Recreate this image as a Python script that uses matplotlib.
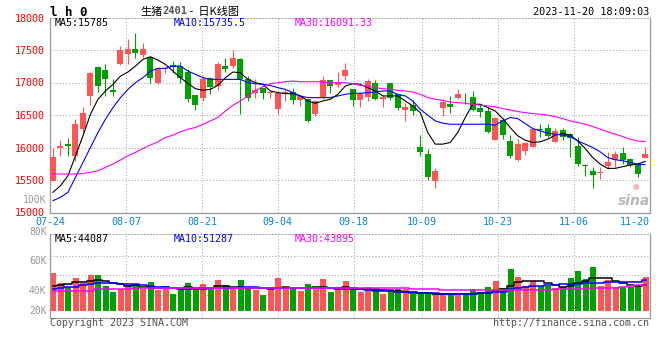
import matplotlib
matplotlib.use("Agg")
import matplotlib.pyplot as plt
import numpy as np

# ---------------- data ----------------
dates = ["07-24", "07-25", "07-26", "07-27", "07-28", "07-31",
         "08-01", "08-02", "08-03", "08-04", "08-07", "08-08", "08-09", "08-10", "08-11",
         "08-14", "08-15", "08-16", "08-17", "08-18", "08-21", "08-22", "08-23", "08-24", "08-25",
         "08-28", "08-29", "08-30", "08-31",
         "09-01", "09-04", "09-05", "09-06", "09-07", "09-08", "09-11", "09-12", "09-13", "09-14", "09-15",
         "09-18", "09-19", "09-20", "09-21", "09-22", "09-25", "09-26", "09-27", "09-28",
         "10-09", "10-10", "10-11", "10-12", "10-13", "10-16", "10-17", "10-18", "10-19", "10-20",
         "10-23", "10-24", "10-25", "10-26", "10-27", "10-30", "10-31",
         "11-01", "11-02", "11-03", "11-06", "11-07", "11-08", "11-09", "11-10",
         "11-13", "11-14", "11-15", "11-16", "11-17", "11-20"]

opens = [15490, 15995, 16050, 15873, 16282, 16793, 17237, 17200, 16880, 17288,
         17442, 17508, 17421, 17396, 16997, 17212, 17263, 17253, 17166, 16803,
         16767, 17064, 16946, 17248, 17253, 17355, 17048, 16845, 16910, 16834,
         16588, 16818, 16854, 16726, 16742, 16512, 16767, 17033, 16961, 17099,
         16895, 16731, 16778, 16987, 16742, 16987, 16818, 16578, 16650, 16001,
         15899, 15490, 16614, 16665, 16757, 16767, 16778, 16614, 16563, 16118,
         16425, 16103, 15807, 15950, 16011, 16292, 16297, 16088, 16266, 16215,
         16026, 15730, 15643, 15607, 15710, 15806, 15914, 15822, 15745, 15837]
highs = [15992, 16113, 16140, 16435, 16624, 17166, 17253, 17278, 17058, 17560,
         17662, 17764, 17610, 17396, 17243, 17237, 17329, 17314, 17202, 16803,
         17099, 17084, 17314, 17380, 17498, 17380, 17099, 17048, 16920, 16870,
         16870, 16880, 16920, 16803, 16752, 16731, 17099, 17033, 17161, 17304,
         16895, 16844, 17048, 17033, 16803, 16997, 16818, 16690, 16726, 16190,
         15975, 15679, 16742, 16793, 16905, 16844, 16870, 16665, 16624, 16476,
         16461, 16190, 16128, 16088, 16292, 16358, 16369, 16307, 16297, 16230,
         16154, 15745, 15694, 15694, 15924, 15950, 16001, 15832, 15745, 16011]
lows = [15480, 15873, 15873, 15787, 16230, 16650, 16854, 16793, 16793, 17263,
        17288, 17380, 17380, 16997, 16972, 17150, 17150, 16997, 16701, 16573,
        16716, 16818, 16880, 17166, 17227, 16520, 16716, 16767, 16742, 16767,
        16512, 16716, 16665, 16640, 16394, 16486, 16742, 16834, 16936, 17038,
        16640, 16624, 16716, 16726, 16624, 16726, 16573, 16410, 16497, 15873,
        15500, 15372, 16487, 16538, 16742, 16665, 16563, 16476, 16220, 16118,
        16128, 15832, 15796, 15883, 16001, 16154, 16154, 16078, 16113, 15850,
        15720, 15566, 15377, 15515, 15669, 15704, 15745, 15694, 15541, 15837]
closes = [15848, 16030, 16025, 16358, 16527, 17140, 16946, 17058, 16860, 17498,
          17508, 17447, 17508, 17064, 17227, 17227, 17242, 17064, 16742, 16650,
          17048, 16936, 17288, 17212, 17370, 17048, 16767, 16880, 16845, 16854,
          16844, 16854, 16726, 16793, 16410, 16716, 17033, 16946, 17012, 17191,
          16731, 16818, 17023, 16742, 16778, 16767, 16604, 16624, 16563, 15934,
          15551, 15643, 16702, 16624, 16818, 16757, 16573, 16553, 16241, 16461,
          16195, 15873, 16052, 16062, 16282, 16266, 16180, 16256, 16154, 16139,
          15745, 15710, 15582, 15618, 15781, 15898, 15812, 15730, 15592, 15898]

ma5 = [15311, 15413, 15566, 15873, 16180, 16512, 16742, 16870, 16972, 17099,
       17161, 17253, 17355, 17396, 17345, 17278, 17176, 17074, 16987, 16905,
       16880, 16895, 16956, 17074, 17161, 17150, 17048, 16997, 16972, 16870,
       16844, 16829, 16829, 16793, 16716, 16680, 16716, 16742, 16818, 16946,
       16982, 16972, 16920, 16870, 16793, 16793, 16793, 16716, 16640, 16537,
       16231, 16052, 16052, 16077, 16231, 16461, 16665, 16665, 16614, 16563,
       16445, 16307, 16180, 16113, 16077, 16088, 16128, 16190, 16215, 16190,
       16103, 15985, 15847, 15745, 15679, 15679, 15704, 15730, 15745, 15785]
ma10 = [15183, 15234, 15311, 15541, 15771, 16001, 16231, 16435, 16614, 16767,
        16895, 16997, 17074, 17176, 17217, 17217, 17253, 17253, 17176, 17125,
        17074, 17048, 17048, 17048, 17048, 17048, 16997, 16982, 16972, 16956,
        16920, 16895, 16844, 16793, 16767, 16767, 16767, 16767, 16793, 16818,
        16834, 16834, 16844, 16854, 16870, 16870, 16818, 16793, 16716, 16588,
        16497, 16410, 16374, 16358, 16358, 16358, 16358, 16358, 16358, 16343,
        16410, 16461, 16445, 16369, 16292, 16256, 16221, 16205, 16190, 16169,
        16103, 16052, 16001, 15934, 15847, 15812, 15796, 15771, 15745, 15735.5]
ma30 = [15592, 15592, 15592, 15592, 15602, 15618, 15643, 15694, 15745, 15807,
        15873, 15924, 15985, 16037, 16088, 16154, 16190, 16241, 16282, 16307,
        16358, 16410, 16461, 16560, 16650, 16716, 16793, 16870, 16936, 16982,
        16997, 17012, 17023, 17012, 17012, 17012, 17007, 16997, 16997, 16997,
        16982, 16956, 16946, 16920, 16905, 16895, 16880, 16870, 16854, 16818,
        16767, 16742, 16726, 16701, 16690, 16680, 16665, 16650, 16640, 16624,
        16599, 16578, 16553, 16537, 16522, 16512, 16497, 16476, 16445, 16410,
        16384, 16358, 16323, 16282, 16241, 16205, 16169, 16128, 16100, 16091.33]

volume = [64400, 47600, 39760, 56000, 47600, 60480, 60480, 42000, 32480, 36400,
          43680, 45360, 36400, 49280, 35280, 39760, 28560, 36400, 47600, 38080,
          45360, 36400, 52080, 43680, 39760, 52080, 39200, 35280, 26880, 36400,
          56000, 39760, 38080, 33600, 45360, 36400, 53760, 32480, 38080, 50960,
          39200, 32480, 40880, 38080, 28560, 36400, 36960, 36400, 28560, 32480,
          30800, 28000, 30800, 29680, 29680, 26880, 36960, 32480, 40880, 50960,
          38080, 70560, 57680, 42000, 50400, 42000, 42000, 38080, 39760, 56000,
          67760, 53760, 74480, 42560, 52080, 40880, 39760, 39760, 42560, 57680]
vol_ma5 = [42000, 43680, 44800, 48160, 48160, 50960, 52080, 50960, 46480, 44800,
           42000, 43680, 40880, 39760, 39200, 39760, 38080, 36960, 39760, 38080,
           39200, 39200, 42000, 42000, 39760, 39760, 38080, 38080, 38080, 36960,
           39200, 39760, 39200, 38080, 38080, 39760, 39760, 39200, 39200, 39760,
           39200, 36960, 36400, 35280, 35280, 34160, 33600, 32480, 31360, 30800,
           29680, 28560, 28000, 28000, 28000, 28000, 29120, 29680, 29680, 34160,
           36960, 42000, 49280, 50400, 50400, 50400, 46480, 43680, 40880, 42000,
           46480, 50400, 56000, 56000, 54880, 50400, 47600, 43680, 42000, 44087]
vol_ma10 = [36960, 38080, 39760, 40880, 43680, 44800, 46480, 46480, 46480, 45360,
            44800, 44800, 43680, 42000, 40880, 39760, 39200, 38080, 36960, 36960,
            36960, 38080, 38080, 39200, 39200, 39760, 39760, 39760, 39200, 38080,
            38080, 38080, 38080, 38080, 38080, 39200, 39200, 38080, 36960, 36960,
            36400, 36400, 35280, 34160, 34160, 33600, 32480, 31920, 30800, 30800,
            29680, 29680, 28560, 28560, 28560, 28560, 28560, 29680, 29680, 31360,
            32480, 36400, 38080, 39760, 42000, 42560, 43680, 43680, 44800, 44800,
            45360, 46480, 47600, 47600, 48160, 48160, 48160, 48160, 49280, 51287]
vol_ma30 = [34160, 34160, 34160, 34160, 34160, 34160, 36400, 36400, 36400, 36400,
            36400, 38080, 38080, 38080, 38080, 38080, 38080, 38080, 38080, 38080,
            38080, 38640, 38640, 38640, 38640, 38640, 38640, 38640, 38640, 38640,
            38640, 38640, 38640, 38640, 38640, 38640, 38640, 38640, 38080, 38080,
            38080, 38080, 38080, 38080, 38080, 38080, 38080, 38080, 36400, 36400,
            36400, 36400, 35280, 35280, 35280, 34720, 34720, 34720, 34720, 35280,
            35280, 35280, 35280, 35280, 35280, 35280, 35280, 36400, 36400, 36400,
            36400, 36400, 38640, 38640, 38640, 38640, 40880, 42000, 43120, 43895]

price_ticks = [15000, 15500, 16000, 16500, 17000, 17500, 18000]
date_ticks = ["07-24", "08-07", "08-21", "09-04", "09-18", "10-09", "10-23", "11-06", "11-20"]
vol_tick_labels = ["100K", "80K", "60K", "40K", "20K"]

title_code = "l h 0"
title_name = "生猪"
title_contract = "2401"
title_rest = " -  日K线图"
timestamp = "2023-11-20 18:09:03"
ma_labels = ["MA5:15785", "MA10:15735.5", "MA30:16091.33"]
vol_ma_labels = ["MA5:44087", "MA10:51287", "MA30:43895"]

# ---------------- style ----------------
W, H = 660, 360
RED = "#ff5555"
GREEN = "#00a000"
GRID = "#a8a8a8"
SPINE = "#9a9a9a"
MONO = "DejaVu Sans Mono"
DOT = (0, (1, 2))


def fx(px):
    return px / W


def fy(py):
    return 1 - py / H


fig = plt.figure(figsize=(W / 100, H / 100), dpi=100)
fig.patch.set_facecolor("white")

ax = fig.add_axes([fx(50), fy(212.5), 600 / W, (212.5 - 17.5) / H])
axv = fig.add_axes([fx(50), fy(318), 600 / W, (318 - 234) / H])

n = len(dates)
x = np.arange(n)
o = np.array(opens, float)
h = np.array(highs, float)
l = np.array(lows, float)
c = np.array(closes, float)
up = c >= o
colors = np.where(up, RED, GREEN)

# gridline positions of labelled dates (grid step slightly wider than candle step)
tick_idx = [dates.index(d) for d in date_ticks]
grid_x = [(7.6 * k - 3) / 7.5 for k in tick_idx]

for a in (ax, axv):
    a.set_xlim(-0.4, n - 0.4)
    for gx in grid_x:
        a.axvline(gx, color=GRID, lw=0.75, ls=DOT, zorder=0)
    for s in ("left", "bottom", "right"):
        a.spines[s].set_color(SPINE)
        a.spines[s].set_linewidth(0.9)
    a.spines["top"].set_color(GRID)
    a.spines["top"].set_linestyle(DOT)
    a.spines["top"].set_linewidth(0.75)

# ---- candles ----
ax.vlines(x, l, h, colors=colors, lw=0.8, zorder=2)
body_bottom = np.minimum(o, c)
body_h = np.maximum(np.abs(c - o), 10)
ax.bar(x, body_h, bottom=body_bottom, width=0.8, color=colors, lw=0, zorder=3)

ax.plot(x, ma5, color="black", lw=0.8, zorder=4)
ax.plot(x, ma10, color="#0000ff", lw=0.8, zorder=4)
ax.plot(x, ma30, color="#ff00ff", lw=0.8, zorder=4)

ax.set_ylim(15000, 18000)
ax.set_yticks(price_ticks)
ax.set_yticklabels([str(t) for t in price_ticks])
for gy in price_ticks[1:-1]:
    ax.axhline(gy, color=GRID, lw=0.75, ls=DOT, zorder=0)
ax.tick_params(axis="y", length=0, pad=3.5, labelcolor="#ff0000", labelsize=7.2)
for t in ax.get_yticklabels():
    t.set_fontfamily(MONO)

ax.set_xticks(grid_x)
ax.set_xticklabels(date_ticks)
ax.tick_params(axis="x", length=0, pad=3.0, labelcolor="#0a84d6", labelsize=7.2)
xt = ax.get_xticklabels()
for t in xt:
    t.set_fontfamily(MONO)
xt[-1].set_ha("right")

# ---- volume ----
vol_base_px, vol_top_px, vol_bot_px = 311.0, 234.0, 318.0
vol_per_px = 1680.0
axv.set_ylim(-(vol_bot_px - vol_base_px) * vol_per_px, (vol_base_px - vol_top_px) * vol_per_px)
axv.bar(x, volume, width=0.8, color=colors, lw=0, zorder=2)
axv.plot(x, vol_ma5, color="black", lw=1.1, drawstyle="steps-mid", zorder=4)
axv.plot(x, vol_ma10, color="#0000ff", lw=1.1, drawstyle="steps-mid", zorder=4)
axv.plot(x, vol_ma30, color="#ff00ff", lw=1.1, drawstyle="steps-mid", zorder=4)
for gpx in (255.7, 275.3, 295.0):
    axv.axhline((vol_base_px - gpx) * vol_per_px, color=GRID, lw=0.75, ls=DOT, zorder=0)
axv.set_xticks([])
axv.set_yticks([])

# volume scale labels (placed as in the reference)
for lab, py in zip(vol_tick_labels, [200, 231.5, 261, 291, 311]):
    fig.text(fx(46.5), fy(py), lab, ha="right", va="center", color="#999999",
             fontsize=7.0, family=MONO)

# ---------------- texts ----------------
fig.text(fx(50), fy(12), title_code, ha="left", va="center", fontsize=9,
         family=MONO, fontweight="bold", color="black")
fig.text(fx(140), fy(11.5), title_name, ha="left", va="center", fontsize=8,
         family=["Noto Sans CJK SC", "DejaVu Sans"], color="black")
fig.text(fx(162), fy(11.5), title_contract, ha="left", va="center", fontsize=7.5,
         family=MONO, fontweight="bold", color="#555555")
fig.text(fx(187), fy(11.5), title_rest, ha="left", va="center", fontsize=8,
         family=["Noto Sans CJK SC", "DejaVu Sans"], color="black")
fig.text(fx(649), fy(12), timestamp, ha="right", va="center", fontsize=7.3,
         family=MONO, color="black")

ma_cols = ["black", "#0000ff", "#ff00ff"]
for lab, px, col in zip(ma_labels, [55, 174, 295], ma_cols):
    fig.text(fx(px), fy(23.5), lab, ha="left", va="center", fontsize=7.2,
             family=MONO, color=col)
for lab, px, col in zip(vol_ma_labels, [55, 174, 295], ma_cols):
    fig.text(fx(px), fy(238.5), lab, ha="left", va="center", fontsize=7.2,
             family=MONO, color=col)

fig.text(fx(50), fy(323), "Copyright 2023 SINA.COM", ha="left", va="center",
         fontsize=7.2, family=MONO, color="#555555")
fig.text(fx(649), fy(323), "http://finance.sina.com.cn", ha="right", va="center",
         fontsize=7.2, family=MONO, color="#555555")

# sina watermark
fig.text(fx(636), fy(186.5), "●", ha="center", va="center", fontsize=5.5,
         color="#f4b6b6", family="DejaVu Sans")
fig.text(fx(634), fy(201), "sina", ha="center", va="center", fontsize=10,
         color="#b8b8b8", family="DejaVu Sans", fontweight="bold", style="italic")

fig.savefig("out.png", dpi=100, facecolor="white")
